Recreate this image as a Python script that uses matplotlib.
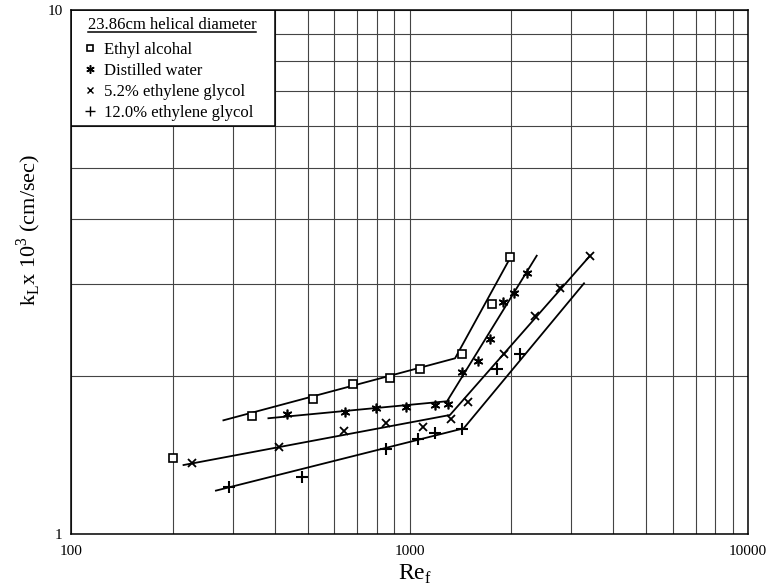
import numpy as np
import matplotlib
matplotlib.use("Agg")
import matplotlib.pyplot as plt
from matplotlib.patches import Rectangle
from matplotlib.lines import Line2D
from matplotlib.ticker import NullFormatter

plt.rcParams["font.family"] = ["Liberation Serif", "DejaVu Serif"]
plt.rcParams["mathtext.fontset"] = "custom"
plt.rcParams["mathtext.rm"] = "Liberation Serif"

# ---- data (Re_f, k_L x 10^3) ----
ethyl_re = [200, 343, 519, 679, 876, 1072, 1432, 1749, 1981]
ethyl_k = [1.394, 1.682, 1.810, 1.931, 1.985, 2.062, 2.206, 2.748, 3.382]

water_re = [435, 645, 796, 976, 1189, 1297, 1434, 1594, 1732, 1889, 2040, 2224]
water_k = [1.692, 1.707, 1.742, 1.750, 1.765, 1.773, 2.038, 2.139, 2.356, 2.768, 2.879, 3.145]

eg52_re = [228, 412, 642, 850, 1093, 1328, 1487, 1902, 2353, 2778, 3415]
eg52_k = [1.364, 1.468, 1.573, 1.631, 1.602, 1.657, 1.784, 2.203, 2.606, 2.951, 3.397]

eg12_re = [293, 480, 855, 1062, 1193, 1431, 1810, 2116]
eg12_k = [1.228, 1.286, 1.456, 1.517, 1.556, 1.586, 2.068, 2.203]

# fitted two-segment lines: start, knee, end
ethyl_fit_re = [282, 1363, 1968]
ethyl_fit_k = [1.648, 2.164, 3.333]
water_fit_re = [383, 1291, 2376]
water_fit_k = [1.663, 1.792, 3.397]
eg52_fit_re = [215, 1317, 3415]
eg52_fit_k = [1.354, 1.687, 3.397]
eg12_fit_re = [268, 1446, 3278]
eg12_fit_k = [1.210, 1.591, 3.009]

labels = ["Ethyl alcohal", "Distilled water",
          "5.2% ethylene glycol", "12.0% ethylene glycol"]

fig = plt.figure(figsize=(7.69, 5.88), dpi=100)
ax = fig.add_axes([71 / 769, 54 / 588, 677 / 769, 524 / 588])
ax.set_xscale("log")
ax.set_yscale("log")
ax.set_xlim(100, 10000)
ax.set_ylim(1, 10)

ax.set_axisbelow(True)
ax.grid(True, which="both", color="#444444", lw=0.8)
for s in ax.spines.values():
    s.set_linewidth(1.1)

ax.set_xticks([100, 1000, 10000])
ax.set_xticklabels(["100", "1000", "10000"])
ax.set_yticks([1, 10])
ax.set_yticklabels(["1", "10"])
ax.xaxis.set_minor_formatter(NullFormatter())
ax.yaxis.set_minor_formatter(NullFormatter())
ax.tick_params(which="both", length=0, labelsize=11)
ax.tick_params(axis="x", pad=8)
ax.tick_params(axis="y", pad=6)

ax.set_xlabel(r"Re$_{\mathregular{f}}$", fontsize=17)
ax.xaxis.set_label_coords(0.508, -0.055)
ax.set_ylabel(r"k$_{\mathregular{L}}$x 10$^{\mathregular{3}}$ (cm/sec)", fontsize=16)
ax.yaxis.set_label_coords(-0.041, 0.58)

# fitted lines
for fx, fy in [(ethyl_fit_re, ethyl_fit_k), (water_fit_re, water_fit_k),
               (eg52_fit_re, eg52_fit_k), (eg12_fit_re, eg12_fit_k)]:
    ax.plot(fx, fy, color="black", lw=1.3, zorder=3)

ast = (6, 2, 0)
ax.plot(ethyl_re, ethyl_k, ls="none", marker="s", ms=6, mfc="white",
        mec="black", mew=1.2, zorder=4)
ax.plot(water_re, water_k, ls="none", marker=ast, ms=7, color="black",
        mew=1.2, zorder=4)
ax.plot(eg52_re, eg52_k, ls="none", marker="x", ms=6, color="black",
        mew=1.3, zorder=4)
ax.plot(eg12_re, eg12_k, ls="none", marker="+", ms=9, color="black",
        mew=1.5, zorder=4)

# legend box covering the grid
ax.add_patch(Rectangle((100, 6), 300, 4, facecolor="white", edgecolor="black",
                       lw=1.1, zorder=2))
ax.text(0.025, 0.9637, "23.86cm helical diameter", transform=ax.transAxes,
        fontsize=12, va="baseline", ha="left", zorder=6)
ax.add_line(Line2D([0.025, 0.273], [0.958, 0.958], transform=ax.transAxes,
                   color="black", lw=1.1, zorder=6))

handles = [
    Line2D([], [], ls="none", marker="s", ms=5, mfc="white", mec="black", mew=1.2),
    Line2D([], [], ls="none", marker=ast, ms=6, color="black", mew=1.1),
    Line2D([], [], ls="none", marker="x", ms=5, color="black", mew=1.0),
    Line2D([], [], ls="none", marker="+", ms=7, color="black", mew=1.0),
]
leg = ax.legend(handles, labels, loc="upper left", bbox_to_anchor=(0.008, 0.952),
                frameon=False, fontsize=12, handlelength=0.8, handletextpad=0.45,
                labelspacing=0.3, borderaxespad=0.2, borderpad=0.2)
leg.set_zorder(6)

plt.savefig("out.png", dpi=100)
